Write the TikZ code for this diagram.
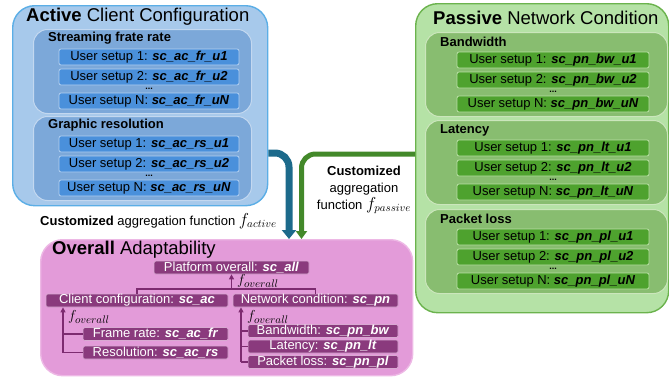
\documentclass[tikz,border=0pt]{standalone}
\usepackage{fontspec}
\setmainfont{Liberation Sans}
\usetikzlibrary{arrows.meta, positioning, calc}

\definecolor{acOuter}{HTML}{A7C9EB}
\definecolor{acEdge}{HTML}{5BAEE6}
\definecolor{acGroup}{HTML}{7CA8D9}
\definecolor{acGroupEdge}{HTML}{C3D8F0}
\definecolor{acItem}{HTML}{4A90DB}
\definecolor{acItemEdge}{HTML}{B3D0F1}
\definecolor{pnOuter}{HTML}{B5E2A6}
\definecolor{pnEdge}{HTML}{6BB34D}
\definecolor{pnGroup}{HTML}{88BD70}
\definecolor{pnGroupEdge}{HTML}{CBE6BC}
\definecolor{pnItem}{HTML}{4EA22E}
\definecolor{pnItemEdge}{HTML}{B9DFA5}
\definecolor{ovOuter}{HTML}{E39BD9}
\definecolor{ovEdge}{HTML}{EDB8E5}
\definecolor{ovItem}{HTML}{8A3A7D}
\definecolor{ovItemEdge}{HTML}{D9A9D2}
\definecolor{ovLine}{HTML}{7D2B70}
\definecolor{flowBlue}{HTML}{1C6A8B}
\definecolor{flowGreen}{HTML}{43892A}

\newcommand{\boxfont}{\fontsize{13}{14}\selectfont}
\newcommand{\scname}[1]{\textbf{\textit{#1}}}
\newcommand{\aggf}[1]{{\fontsize{16}{16}\selectfont$f_{#1}$}}

\tikzset{
    panel/.style={line width=1.4pt, rounded corners=22pt, anchor=north west, inner sep=0pt},
    group/.style={line width=1pt, rounded corners=14pt, anchor=north west, inner sep=0pt},
    paneltitle/.style={anchor=west, inner sep=0pt, font=\fontsize{18.5}{20}\selectfont},
    grouptitle/.style={anchor=west, inner sep=0pt, font=\fontsize{13}{14}\selectfont\bfseries},
    setup/.style={line width=0.8pt, rounded corners=2pt, inner sep=0pt, minimum height=16pt, font=\boxfont},
    dots/.style={inner sep=0pt, font=\fontsize{9}{9}\selectfont\bfseries},
    score/.style={draw=ovItemEdge, fill=ovItem, text=white, line width=0.7pt, rounded corners=1.5pt, inner sep=0pt, minimum height=13pt, font=\boxfont},
    tree/.style={draw=ovLine, line width=1.2pt},
    up/.style={tree, -{Triangle[length=5pt, width=5pt]}},
    flabel/.style={anchor=west, inner sep=0pt, font=\fontsize{15}{15}\selectfont},
    flowA/.style={draw=flowBlue, line width=7pt, rounded corners=14pt, -{Triangle[length=9pt, width=14pt]}},
    flowP/.style={draw=flowGreen, line width=5pt, rounded corners=14pt, -{Triangle[length=8pt, width=11pt]}}
}

\begin{document}
\begin{tikzpicture}[x=1pt, y=-1pt]
    \useasboundingbox (0,0) rectangle (669,380);

    % active client configuration
    \node[panel, draw=acEdge, fill=acOuter, minimum width=255pt, minimum height=200pt] (active) at (12,5) {};
    \node[paneltitle] (activetitle) at (26,17) {\textbf{Active} Client Configuration};
    \foreach \key/\top/\gtitle in {fr/29/Streaming frate rate, rs/116/Graphic resolution} {
        \node[group, draw=acGroupEdge, fill=acGroup, minimum width=218pt, minimum height=84pt] (g\key) at (33,\top) {};
        \node[grouptitle] (t\key) at (48,\top+9.5) {\gtitle};
        \node[setup, draw=acItemEdge, fill=acItem, minimum width=180pt] (\key1) at (149,\top+28) {User setup 1: \scname{sc\_ac\_\key\_u1}};
        \node[setup, draw=acItemEdge, fill=acItem, minimum width=180pt] (\key2) at (149,\top+48) {User setup 2: \scname{sc\_ac\_\key\_u2}};
        \node[dots] (\key d) at (149,\top+60) {...};
        \node[setup, draw=acItemEdge, fill=acItem, minimum width=180pt] (\key N) at (149,\top+72) {User setup N: \scname{sc\_ac\_\key\_uN}};
    }

    % passive network condition
    \node[panel, draw=pnEdge, fill=pnOuter, minimum width=253pt, minimum height=309pt] (passive) at (415,3) {};
    \node[paneltitle] (passivetitle) at (433,18) {\textbf{Passive} Network Condition};
    \foreach \key/\top/\gtitle in {bw/32/Bandwidth, lt/120/Latency, pl/209/Packet loss} {
        \node[group, draw=pnGroupEdge, fill=pnGroup, minimum width=242pt, minimum height=84pt] (g\key) at (425,\top) {};
        \node[grouptitle] (t\key) at (440,\top+10) {\gtitle};
        \node[setup, draw=pnItemEdge, fill=pnItem, minimum width=192pt] (\key1) at (553,\top+28) {User setup 1: \scname{sc\_pn\_\key\_u1}};
        \node[setup, draw=pnItemEdge, fill=pnItem, minimum width=192pt] (\key2) at (553,\top+48) {User setup 2: \scname{sc\_pn\_\key\_u2}};
        \node[dots] (\key d) at (553,\top+60) {...};
        \node[setup, draw=pnItemEdge, fill=pnItem, minimum width=192pt] (\key N) at (553,\top+72) {User setup N: \scname{sc\_pn\_\key\_uN}};
    }

    % overall adaptability
    \node[panel, draw=ovEdge, fill=ovOuter, minimum width=372pt, minimum height=136pt] (overall) at (40,239) {};
    \node[paneltitle] (overalltitle) at (52,250) {\textbf{Overall} Adaptability};
    \node[score, minimum width=155pt] (all) at (231.5,267.5) {Platform overall: \scname{sc\_all}};
    \node[score, minimum width=182pt] (sac) at (137,300.5) {Client configuration: \scname{sc\_ac}};
    \node[score, minimum width=165pt] (spn) at (315.5,300.5) {Network condition: \scname{sc\_pn}};
    \node[score, minimum width=145pt] (sfr) at (155.5,334) {Frame rate: \scname{sc\_ac\_fr}};
    \node[score, minimum width=145pt] (srs) at (155.5,352.5) {Resolution: \scname{sc\_ac\_rs}};
    \node[score, minimum width=150pt] (sbw) at (323,331) {Bandwidth: \scname{sc\_pn\_bw}};
    \node[score, minimum width=150pt] (slt) at (323,346.5) {Latency: \scname{sc\_pn\_lt}};
    \node[score, minimum width=150pt] (spl) at (323,362) {Packet loss: \scname{sc\_pn\_pl}};

    \draw[tree] (sac.north) |- (spn.north |- 0,289) -- (spn.north);
    \draw[up] (all.south |- 0,289) -- (all.south);
    \node[flabel] (fall) at (237,281) {$f_{overall}$};

    \draw[up] (srs.west -| 63,0) -- (sac.south -| 63,0);
    \draw[tree] (sfr.west) -- (sfr.west -| 63,0);
    \draw[tree] (srs.west) -- (srs.west -| 63,0);
    \node[flabel] (fac) at (68,317) {$f_{overall}$};

    \draw[up] (spl.west -| 241,0) -- (spn.south -| 241,0);
    \foreach \s in {sbw, slt, spl} \draw[tree] (\s.west) -- (\s.west -| 241,0);
    \node[flabel] (fpn) at (247,317) {$f_{overall}$};

    % aggregation flows
    \draw[flowA] (active.east |- 0,153) -| (289,0 |- overall.north);
    \draw[flowP] (passive.west |- 0,154) -| (301.5,0 |- overall.north);
    \node[anchor=west, inner sep=0pt, font=\boxfont] (aggA) at (40,221) {\textbf{Customized} aggregation function \aggf{active}};
    \node[align=center, inner sep=0pt, font=\fontsize{13}{17}\selectfont] (aggP) at (364,190) {\textbf{Customized}\\aggregation\\function \aggf{passive}};
\end{tikzpicture}
\end{document}
